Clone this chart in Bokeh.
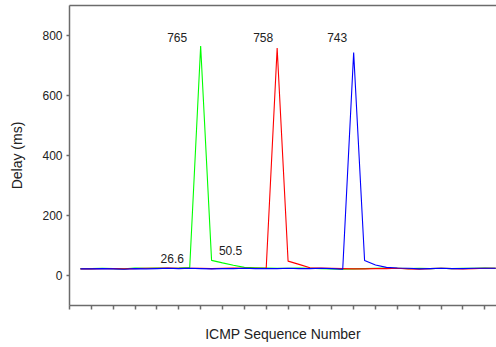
from bokeh.plotting import figure
from bokeh.models import Range1d, LinearAxis, FixedTicker, SingleIntervalTicker, ColumnDataSource
from bokeh.core.properties import value
from bokeh.embed import file_html
from bokeh.resources import INLINE

# ---- data ----
seq = list(range(1, 40))
green = [23, 23, 24, 23, 22, 25, 24, 25, 24, 25, 26.6, 765, 50.5, 42, 34, 27, 26, 25, 24, 24,
         25, 24, 23, 22, 21, 22, 23, 24, 25, 24, 23, 24, 23, 24, 23, 24, 24, 25, 24]
red = [22, 22, 23, 23, 22, 23, 24, 24, 25, 24, 24, 24, 23, 24, 25, 24, 24, 25, 758, 48,
       37, 26, 25, 24, 23, 22, 22, 23, 23, 24, 22, 21, 23, 24, 23, 22, 23, 24, 24]
blue = [22, 22, 23, 22, 21, 23, 22, 23, 24, 23, 24, 23, 22, 23, 23, 24, 23, 23, 23, 24,
        23, 23, 24, 23, 21, 743, 50, 35, 27, 25, 24, 22, 23, 24, 23, 23, 24, 24, 24]
y_ticks = [0, 200, 400, 600, 800]

label_seq = [12, 19, 26, 11, 13]
label_val = [765, 758, 743, 26.6, 50.5]
label_text = ["765", "758", "743", "26.6", "50.5"]
label_dx = [-23.5, -14, -16.5, -17.5, 19]
label_dy = [-9, -11, -15.5, -9, -10]

FONT = "Liberation Sans"
GRAY = "#6b6b6b"
TXT = "#222222"

p = figure(width=496, height=347, output_backend="svg", toolbar_location=None,
           x_range=Range1d(0, 39.07), y_range=Range1d(-100, 900),
           min_border_left=69, min_border_right=0, min_border_top=5, min_border_bottom=42)
p.outline_line_color = None
p.grid.grid_line_color = None
p.background_fill_color = "white"
p.border_fill_color = "white"

for ys, col in ((green, "#00ff00"), (red, "#ff0000"), (blue, "#0000ff")):
    p.line(seq, ys, line_color=col, line_width=1.1)

src = ColumnDataSource(dict(x=label_seq, y=label_val, t=label_text, dx=label_dx, dy=label_dy))
p.text(x="x", y="y", text="t", x_offset="dx", y_offset="dy", source=src,
       text_font=value(FONT), text_font_size="12px", text_color=TXT,
       text_align="center", text_baseline="middle")

xa = p.xaxis[0]
xa.ticker = SingleIntervalTicker(interval=2, num_minor_ticks=0)
xa.major_label_text_font_size = "0px"
xa.major_label_text_color = None
xa.major_tick_in = 0
xa.major_tick_out = 4
xa.minor_tick_line_color = None
xa.axis_line_color = GRAY
xa.axis_line_width = 1.5
xa.major_tick_line_color = GRAY
xa.major_tick_line_width = 1.5
xa.axis_label = "ICMP Sequence Number"
xa.axis_label_text_font = FONT
xa.axis_label_text_font_size = "14px"
xa.axis_label_text_font_style = "normal"
xa.axis_label_text_color = TXT
xa.axis_label_standoff = 16

ya = p.yaxis[0]
ya.ticker = FixedTicker(ticks=y_ticks)
ya.major_label_text_font = FONT
ya.major_label_text_font_size = "12px"
ya.major_label_text_color = TXT
ya.major_label_standoff = 4
ya.major_tick_in = 0
ya.major_tick_out = 3
ya.minor_tick_line_color = None
ya.axis_line_color = GRAY
ya.axis_line_width = 1.5
ya.major_tick_line_color = GRAY
ya.major_tick_line_width = 1.5
ya.axis_label = "Delay (ms)"
ya.axis_label_text_font = FONT
ya.axis_label_text_font_size = "14px"
ya.axis_label_text_font_style = "normal"
ya.axis_label_text_color = TXT
ya.axis_label_standoff = 14

top = LinearAxis(ticker=FixedTicker(ticks=[]), major_label_text_font_size="0px",
                 major_label_text_color=None,
                 axis_line_color=GRAY, axis_line_width=1.5,
                 major_tick_line_color=None, minor_tick_line_color=None)
p.add_layout(top, "above")

open("out.html", "w").write(file_html(p, INLINE))
